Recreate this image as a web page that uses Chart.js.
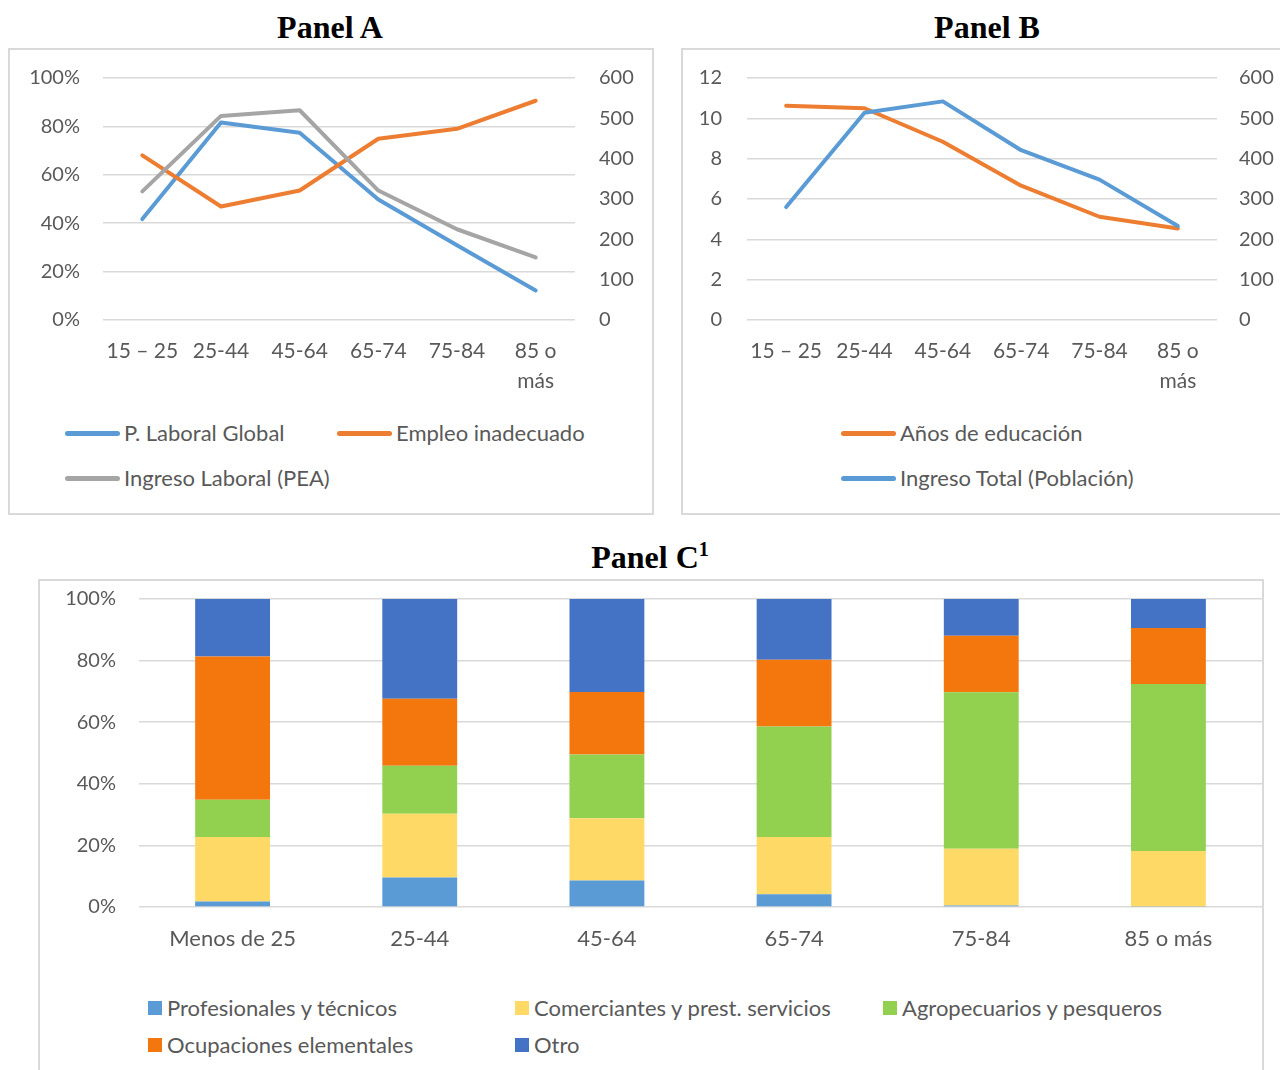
<!DOCTYPE html>
<html lang="es">
<head>
<meta charset="utf-8">
<script src="https://cdn.jsdelivr.net/npm/chart.js@4.4.1/dist/chart.umd.min.js"></script>
<style>
  body { margin: 0; background: #fff; }
  #pagina { position: relative; width: 1280px; height: 1070px; overflow: hidden; font-family: Lato, "Open Sans", sans-serif; }
  .titulo { position: absolute; font-family: "Liberation Serif", "Times New Roman", serif; font-weight: bold; font-size: 32px; color: #000; text-align: center; line-height: 1; }
  .titulo sup { font-size: 20px; vertical-align: 12px; line-height: 0; }
  .caja { position: absolute; box-sizing: border-box; border: 2px solid #d9d9d9; }
  .lienzo { position: absolute; }
  .leyenda-item { position: absolute; display: flex; align-items: center; font-size: 22px; color: #595959; white-space: nowrap; line-height: 1; }
  .leyenda-item .linea { display: inline-block; width: 55px; height: 5px; border-radius: 3px; margin-right: 4px; }
  .leyenda-item .cuadro { display: inline-block; width: 14px; height: 14px; margin-right: 5px; }
</style>
</head>
<body>
<div id="pagina">
  <div class="titulo" style="left:230px; top:11px; width:200px;">Panel A</div>
  <div class="titulo" style="left:887px; top:11px; width:200px;">Panel B</div>
  <div class="titulo" style="left:540px; top:541px; width:220px;">Panel C<sup>1</sup></div>

  <div class="caja" style="left:8px; top:48px; width:646px; height:467px;"></div>
  <div class="caja" style="left:681px; top:48px; width:640px; height:467px;"></div>
  <div class="caja" style="left:38px; top:579px; width:1226px; height:520px;"></div>

  <div class="lienzo" style="left:9px; top:42px;"><canvas id="panelA" width="643" height="360"></canvas></div>
  <div class="lienzo" style="left:682px; top:41px;"><canvas id="panelB" width="598" height="360"></canvas></div>
  <div class="lienzo" style="left:39px; top:564px;"><canvas id="panelC" width="1223" height="400"></canvas></div>
</div>

<script>
// grupos de edad (eje x de los paneles A y B)
const edades = ['15 – 25', '25-44', '45-64', '65-74', '75-84', ['85 o', 'más']];

// Panel A
const laboralGlobal = [0.417, 0.816, 0.774, 0.498, 0.309, 0.122];
const empleoInadecuado = [0.680, 0.469, 0.535, 0.749, 0.790, 0.906];
const ingresoLaboralPEA = [319, 506, 520, 321, 225, 155];

// Panel B
const aniosEducacion = [10.62, 10.50, 8.84, 6.66, 5.12, 4.54];
const ingresoTotal = [280, 514, 542, 421, 348, 233];

// Panel C (porcentaje de ocupados por grupo de edad)
const gruposC = ['Menos de 25', '25-44', '45-64', '65-74', '75-84', '85 o más'];
const profesionales = [1.8, 9.6, 8.6, 4.1, 0.5, 0.2];
const comerciantes = [20.9, 20.7, 20.2, 18.6, 18.4, 18.0];
const agropecuarios = [12.1, 15.6, 20.7, 35.9, 50.8, 54.2];
const elementales = [46.5, 21.7, 20.3, 21.7, 18.4, 18.2];
const otro = [18.7, 32.4, 30.2, 19.7, 11.9, 9.4];

const gris = '#595959';
const fuente = { family: 'Lato', size: 20 };

function serieLinea(label, data, color, eje, orden) {
  return {
    label: label,
    data: data,
    borderColor: color,
    backgroundColor: color,
    borderWidth: 4,
    pointRadius: 0,
    tension: 0,
    borderCapStyle: 'round',
    borderJoinStyle: 'round',
    yAxisID: eje,
    order: orden
  };
}

// alto = altura del eje x dentro del lienzo
function ejeX(alto, tam) {
  return {
    offset: true,
    grid: { display: false },
    border: { display: false },
    ticks: { color: gris, font: { family: 'Lato', size: tam, lineHeight: 1.43 }, padding: 8, maxRotation: 0, autoSkip: false },
    afterFit: function (s) { s.height = alto; }
  };
}

function ejeY(pos, ancho, min, max, paso, formato, conGrilla, relleno) {
  return {
    position: pos,
    min: min,
    max: max,
    grid: { display: conGrilla, color: '#d9d9d9', lineWidth: 1.5, drawTicks: false },
    border: { display: false },
    ticks: { stepSize: paso, color: gris, font: fuente, padding: relleno, callback: formato },
    afterFit: function (s) { s.width = ancho; }
  };
}

function opcionesBase(top, escalas) {
  return {
    responsive: false,
    devicePixelRatio: 1,
    animation: false,
    layout: { padding: { top: top, left: 0, right: 0, bottom: 0 }, autoPadding: false },
    plugins: { legend: { display: false }, tooltip: { enabled: false } },
    scales: escalas
  };
}

// leyenda html a partir de los datasets
function leyenda(chart, items, tipo) {
  const pagina = document.getElementById('pagina');
  items.forEach(function (it) {
    const ds = chart.data.datasets[it.i];
    const div = document.createElement('div');
    div.className = 'leyenda-item';
    div.style.left = it.x + 'px';
    div.style.top = (it.y - 11) + 'px';
    div.style.height = '22px';
    const marca = document.createElement('span');
    marca.className = tipo;
    marca.style.background = tipo === 'cuadro' ? ds.backgroundColor : ds.borderColor;
    div.appendChild(marca);
    div.appendChild(document.createTextNode(ds.label));
    pagina.appendChild(div);
  });
}

const pct = function (v) { return Math.round(v * 100) + '%'; };
const num = function (v) { return v; };

const chartA = new Chart(document.getElementById('panelA'), {
  type: 'line',
  data: {
    labels: edades,
    datasets: [
      serieLinea('P. Laboral Global', laboralGlobal, '#5b9bd5', 'y', 3),
      serieLinea('Empleo inadecuado', empleoInadecuado, '#ed7d31', 'y', 2),
      serieLinea('Ingreso Laboral (PEA)', ingresoLaboralPEA, '#a5a5a5', 'y1', 1)
    ]
  },
  options: opcionesBase(36, {
    x: ejeX(82, 21),
    y: ejeY('left', 94, 0, 1, 0.2, pct, true, 23),
    y1: ejeY('right', 77, 0, 600, 100, num, false, 24)
  })
});

const chartB = new Chart(document.getElementById('panelB'), {
  type: 'line',
  data: {
    labels: edades,
    datasets: [
      serieLinea('Años de educación', aniosEducacion, '#ed7d31', 'y', 2),
      serieLinea('Ingreso Total (Población)', ingresoTotal, '#5b9bd5', 'y1', 1)
    ]
  },
  options: opcionesBase(37, {
    x: ejeX(81, 21),
    y: ejeY('left', 65, 0, 12, 2, num, true, 25),
    y1: ejeY('right', 63, 0, 600, 100, num, false, 22)
  })
});

function serieBarra(label, data, color) {
  return { label: label, data: data, backgroundColor: color, borderWidth: 0, barPercentage: 1, categoryPercentage: 0.4 };
}

const chartC = new Chart(document.getElementById('panelC'), {
  type: 'bar',
  data: {
    labels: gruposC,
    datasets: [
      serieBarra('Profesionales y técnicos', profesionales, '#5b9bd5'),
      serieBarra('Comerciantes y prest. servicios', comerciantes, '#ffd966'),
      serieBarra('Agropecuarios y pesqueros', agropecuarios, '#92d050'),
      serieBarra('Ocupaciones elementales', elementales, '#f4770e'),
      serieBarra('Otro', otro, '#4472c4')
    ]
  },
  options: opcionesBase(35, {
    x: Object.assign(ejeX(57, 22), { stacked: true }),
    y: Object.assign(ejeY('left', 100, 0, 100, 20, function (v) { return v + '%'; }, true, 23), { stacked: true })
  })
});

leyenda(chartA, [
  { i: 0, x: 65, y: 433 },
  { i: 1, x: 337, y: 433 },
  { i: 2, x: 65, y: 478 }
], 'linea');

leyenda(chartB, [
  { i: 0, x: 841, y: 433 },
  { i: 1, x: 841, y: 478 }
], 'linea');

leyenda(chartC, [
  { i: 0, x: 148, y: 1008 },
  { i: 1, x: 515, y: 1008 },
  { i: 2, x: 883, y: 1008 },
  { i: 3, x: 148, y: 1045 },
  { i: 4, x: 515, y: 1045 }
], 'cuadro');
</script>
</body>
</html>
